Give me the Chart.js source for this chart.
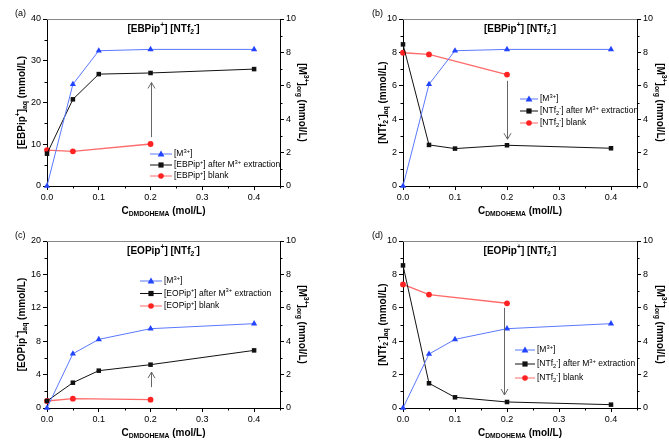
<!DOCTYPE html>
<html>
<head>
<meta charset="utf-8">
<script src="https://cdn.jsdelivr.net/npm/chart.js@4.4.0/dist/chart.umd.min.js"></script>
<style>
html, body { margin: 0; padding: 0; background: #fff; }
#wrap { position: relative; width: 669px; height: 443px; }
canvas { position: absolute; }
</style>
</head>
<body>
<div id="wrap">
    <canvas id="pa" width="334" height="222" style="left:0;top:0"></canvas>
    <canvas id="pb" width="334" height="222" style="left:335px;top:0"></canvas>
    <canvas id="pc" width="334" height="221" style="left:0;top:222px"></canvas>
    <canvas id="pd" width="334" height="221" style="left:335px;top:222px"></canvas>
</div>
<script>
// データ (x = C_DMDOHEMA, mol/L)
const xVals = [0, 0.05, 0.1, 0.2, 0.4];
const xBlank = [0, 0.05, 0.2];
const xTicks = [0, 0.1, 0.2, 0.3, 0.4];
const xMinor = [0.05, 0.15, 0.25, 0.35, 0.45];

// (a) [EBPip+] [NTf2-]  左軸: [EBPip+]aq
const aMetal = [0, 6.09, 8.1, 8.18, 8.18];
const aAfter = [7.74, 20.76, 26.8, 27.07, 28.0];
const aBlank = [8.6, 8.3, 10.06];
const aArrow = [11.7, 24.8];

// (b) [EBPip+] [NTf2-]  左軸: [NTf2-]aq
const bMetal = [0, 6.09, 8.1, 8.18, 8.18];
const bAfter = [8.48, 2.46, 2.24, 2.44, 2.26];
const bBlank = [7.98, 7.88, 6.67];
const bArrow = [6.3, 2.8];

// (c) [EOPip+] [NTf2-]  左軸: [EOPip+]aq
const cMetal = [0, 3.25, 4.11, 4.75, 5.05];
const cAfter = [0.84, 3.03, 4.47, 5.19, 6.9];
const cBlank = [0.84, 1.12, 1.0];
const cArrow = [2.5, 4.3];

// (d) [EOPip+] [NTf2-]  左軸: [NTf2-]aq
const dMetal = [0, 3.23, 4.11, 4.75, 5.05];
const dAfter = [8.54, 1.48, 0.64, 0.36, 0.2];
const dBlank = [7.4, 6.79, 6.27];
const dArrow = [6.0, 0.78];

const FONT = '"Liberation Sans", Arial, sans-serif';
const BLUE_LINE = '#5a78ff', BLUE = '#2244ff';
const RED_LINE = '#ff6a6a', RED = '#ff2222';
const BLACK = '#111111';

// テキスト部品 (['文字', ''|'sub'|'sup'])
const tEBPip = [['[EBPip', ''], ['+', 'sup'], [']', '']];
const tEOPip = [['[EOPip', ''], ['+', 'sup'], [']', '']];
const tNTf2 = [['[NTf', ''], ['2', 'sub'], ['-', 'sup'], [']', '']];
const tM3 = [['[M', ''], ['3+', 'sup'], [']', '']];
const tAfter = [[' after M', ''], ['3+', 'sup'], [' extraction', '']];
const tBlankTxt = [[' blank', '']];
const tAq = [['aq', 'sub'], [' (mmol/L)', '']];
const tOrg = [...tM3, ['org', 'sub'], [' (mmol/L)', '']];
const tX = [['C', ''], ['DMDOHEMA', 'sub'], [' (mol/L)', '']];

function fontStr(size, bold) {
    return (bold ? 'bold ' : '') + size + 'px ' + FONT;
}

function richWidth(ctx, segs, size, bold) {
    let w = 0;
    segs.forEach(([t, m]) => {
        ctx.font = fontStr(m ? size * 0.68 : size, bold);
        w += ctx.measureText(t).width;
    });
    return w;
}

// 上付き・下付きを含むテキスト描画
function drawRich(ctx, segs, x, y, size, bold, rot, align) {
    ctx.save();
    ctx.translate(x, y);
    ctx.rotate(rot || 0);
    const w = richWidth(ctx, segs, size, bold);
    let cx = align === 'left' ? 0 : -w / 2;
    ctx.textBaseline = 'middle';
    ctx.textAlign = 'left';
    ctx.fillStyle = '#000';
    segs.forEach(([t, m]) => {
        const s = m ? size * 0.68 : size;
        ctx.font = fontStr(s, bold);
        const dy = m === 'sub' ? size * 0.32 : (m === 'sup' ? -size * 0.35 : 0);
        ctx.fillText(t, cx, dy);
        cx += ctx.measureText(t).width;
    });
    ctx.restore();
}

function drawMarker(ctx, style, x, y, color) {
    ctx.save();
    ctx.fillStyle = color;
    ctx.beginPath();
    if (style === 'triangle') {
        ctx.moveTo(x, y - 3.6);
        ctx.lineTo(x + 3.4, y + 2.4);
        ctx.lineTo(x - 3.4, y + 2.4);
        ctx.closePath();
    } else if (style === 'rect') {
        ctx.rect(x - 2.6, y - 2.6, 5.2, 5.2);
    } else {
        ctx.arc(x, y, 2.8, 0, Math.PI * 2);
    }
    ctx.fill();
    ctx.restore();
}

// 装飾プラグイン (枠・副目盛・矢印・タイトル・凡例)
function decoPlugin(deco) {
    return {
        id: 'deco',
        afterDraw(chart) {
            const ctx = chart.ctx;
            const area = chart.chartArea;
            const sx = chart.scales.x, sy = chart.scales.y, sy2 = chart.scales.y2;

            // 上の枠線
            ctx.save();
            ctx.strokeStyle = '#888';
            ctx.lineWidth = 1;
            ctx.beginPath();
            ctx.moveTo(area.left, area.top + 0.5);
            ctx.lineTo(area.right, area.top + 0.5);
            ctx.stroke();

            // 副目盛
            ctx.strokeStyle = '#000';
            ctx.beginPath();
            xMinor.forEach(v => {
                const px = Math.round(sx.getPixelForValue(v)) + 0.5;
                ctx.moveTo(px, area.bottom);
                ctx.lineTo(px, area.bottom + 2.5);
            });
            [[sy, -1], [sy2, 1]].forEach(([s, dir]) => {
                const step = s.ticks[1].value - s.ticks[0].value;
                for (let v = step / 2; v < s.max; v += step) {
                    const py = Math.round(s.getPixelForValue(v)) + 0.5;
                    const ex = dir < 0 ? area.left : area.right;
                    ctx.moveTo(ex, py);
                    ctx.lineTo(ex + dir * 2.5, py);
                }
            });
            ctx.stroke();

            // 矢印
            const ax = Math.round(sx.getPixelForValue(deco.arrowX)) + 0.5;
            const y0 = sy.getPixelForValue(deco.arrow[0]);
            const y1 = sy.getPixelForValue(deco.arrow[1]);
            const d = y1 > y0 ? 1 : -1;
            ctx.strokeStyle = '#666';
            ctx.lineWidth = 1;
            ctx.beginPath();
            ctx.moveTo(ax, y0);
            ctx.lineTo(ax, y1);
            ctx.moveTo(ax - 3.5, y1 - d * 6);
            ctx.lineTo(ax, y1);
            ctx.lineTo(ax + 3.5, y1 - d * 6);
            ctx.stroke();
            ctx.restore();

            // パネル記号とタイトル
            ctx.save();
            ctx.font = fontStr(9, false);
            ctx.fillStyle = '#000';
            ctx.textBaseline = 'middle';
            ctx.fillText(deco.label, deco.labelX, 14);
            ctx.restore();
            const midX = (area.left + area.right) / 2;
            const midY = (area.top + area.bottom) / 2;
            drawRich(ctx, deco.title, midX, area.top + 10, 10, true);
            drawRich(ctx, tX, midX, area.bottom + 25, 10, true);
            drawRich(ctx, deco.yTitle, deco.yTitleX, midY, 10, true, -Math.PI / 2);
            drawRich(ctx, tOrg, deco.y2TitleX, midY, 10, true, Math.PI / 2);

            // 凡例
            const lg = deco.legend;
            const items = [
                { segs: tM3, line: BLUE_LINE, color: BLUE, style: 'triangle' },
                { segs: [...deco.species, ...tAfter], line: BLACK, color: BLACK, style: 'rect' },
                { segs: [...deco.species, ...tBlankTxt], line: RED_LINE, color: RED, style: 'circle' }
            ];
            items.forEach((it, i) => {
                const y = lg.y + i * lg.dy;
                ctx.save();
                ctx.strokeStyle = it.line;
                ctx.lineWidth = 1;
                ctx.beginPath();
                ctx.moveTo(lg.x, y);
                ctx.lineTo(lg.x + lg.w, y);
                ctx.stroke();
                ctx.restore();
                drawMarker(ctx, it.style, lg.x + lg.w / 2, y, it.color);
                drawRich(ctx, it.segs, lg.x + lg.w + 2, y, 8.5, false, 0, 'left');
            });
        }
    };
}

function axisCommon() {
    return {
        grid: { drawOnChartArea: false, tickLength: 4, color: '#000', tickColor: '#000' },
        border: { color: '#000', width: 1 }
    };
}

function toPoints(xs, ys) {
    return xs.map((x, i) => ({ x: x, y: ys[i] }));
}

function makePanel(id, p) {
    const canvas = document.getElementById(id);
    const W = canvas.width, H = canvas.height;
    new Chart(canvas.getContext('2d'), {
        type: 'line',
        data: {
            datasets: [{
                label: 'M3+',
                data: toPoints(xVals, p.metal),
                yAxisID: 'y2',
                borderColor: BLUE_LINE,
                backgroundColor: BLUE,
                pointBackgroundColor: BLUE,
                pointBorderWidth: 0,
                pointStyle: 'triangle',
                pointRadius: 3.6,
                borderWidth: 1,
                clip: false
            }, {
                label: 'after extraction',
                data: toPoints(xVals, p.after),
                yAxisID: 'y',
                borderColor: BLACK,
                pointBackgroundColor: BLACK,
                pointBorderWidth: 0,
                pointStyle: 'rect',
                pointRadius: 3.2,
                borderWidth: 1,
                clip: false
            }, {
                label: 'blank',
                data: toPoints(xBlank, p.blank),
                yAxisID: 'y',
                borderColor: RED_LINE,
                pointBackgroundColor: RED,
                pointBorderWidth: 0,
                pointStyle: 'circle',
                pointRadius: 2.9,
                borderWidth: 1.4,
                clip: false
            }]
        },
        options: {
            responsive: false,
            animation: false,
            layout: { padding: { top: 19, left: 0, right: 0, bottom: 0 } },
            plugins: { legend: { display: false }, tooltip: { enabled: false } },
            scales: {
                x: {
                    type: 'linear',
                    min: 0,
                    max: 0.45,
                    afterBuildTicks: s => { s.ticks = xTicks.map(v => ({ value: v })); },
                    afterFit: s => { s.height = H - 186; },
                    ticks: {
                        color: '#000', font: { size: 9, family: FONT }, padding: 2,
                        maxRotation: 0,
                        callback: v => v.toFixed(1)
                    },
                    ...axisCommon()
                },
                y: {
                    position: 'left',
                    min: 0,
                    max: p.yMax,
                    afterFit: s => { s.width = p.left; },
                    ticks: { stepSize: p.yStep, color: '#000', font: { size: 9, family: FONT }, padding: 2 },
                    ...axisCommon()
                },
                y2: {
                    position: 'right',
                    min: 0,
                    max: 10,
                    afterFit: s => { s.width = W - p.right; },
                    ticks: { stepSize: 2, color: '#000', font: { size: 9, family: FONT }, padding: 2 },
                    ...axisCommon()
                }
            }
        },
        plugins: [decoPlugin(p.deco)]
    });
}

makePanel('pa', {
    metal: aMetal, after: aAfter, blank: aBlank, yMax: 40, yStep: 10, left: 47, right: 280,
    deco: {
        label: '(a)', labelX: 15, title: [...tEBPip, [' ', ''], ...tNTf2],
        yTitle: [...tEBPip, ...tAq], yTitleX: 22, y2TitleX: 302,
        species: tEBPip, arrow: aArrow, arrowX: 0.2,
        legend: { x: 150, y: 154, dy: 11, w: 22 }
    }
});
makePanel('pb', {
    metal: bMetal, after: bAfter, blank: bBlank, yMax: 10, yStep: 2, left: 68, right: 302,
    deco: {
        label: '(b)', labelX: 37, title: [...tEBPip, [' ', ''], ...tNTf2],
        yTitle: [...tNTf2, ...tAq], yTitleX: 48, y2TitleX: 325,
        species: tNTf2, arrow: bArrow, arrowX: 0.2,
        legend: { x: 185, y: 99, dy: 12, w: 18 }
    }
});
makePanel('pc', {
    metal: cMetal, after: cAfter, blank: cBlank, yMax: 20, yStep: 4, left: 47, right: 280,
    deco: {
        label: '(c)', labelX: 15, title: [...tEOPip, [' ', ''], ...tNTf2],
        yTitle: [...tEOPip, ...tAq], yTitleX: 22, y2TitleX: 302,
        species: tEOPip, arrow: cArrow, arrowX: 0.2,
        legend: { x: 140, y: 59, dy: 12.5, w: 22 }
    }
});
makePanel('pd', {
    metal: dMetal, after: dAfter, blank: dBlank, yMax: 10, yStep: 2, left: 68, right: 302,
    deco: {
        label: '(d)', labelX: 37, title: [...tEOPip, [' ', ''], ...tNTf2],
        yTitle: [...tNTf2, ...tAq], yTitleX: 48, y2TitleX: 325,
        species: tNTf2, arrow: dArrow, arrowX: 0.195,
        legend: { x: 180, y: 128, dy: 14, w: 20 }
    }
});
</script>
</body>
</html>
